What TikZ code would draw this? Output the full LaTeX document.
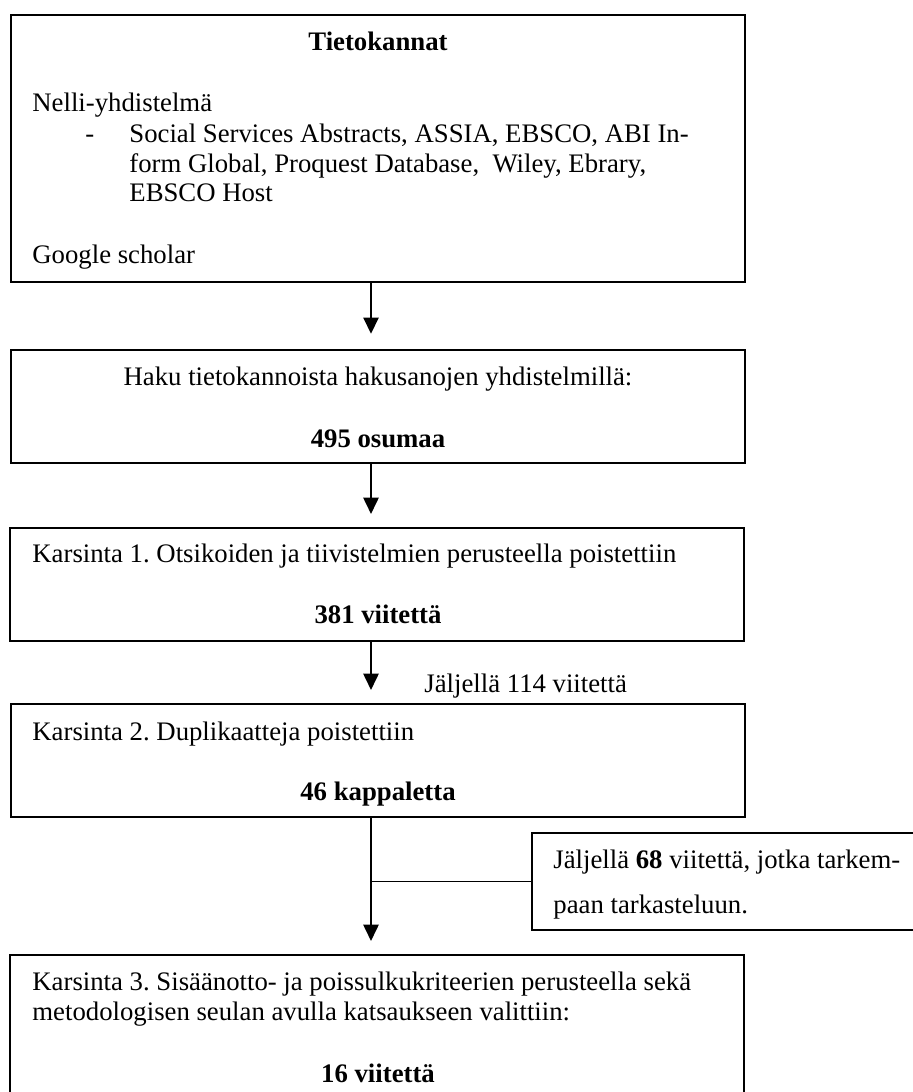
\documentclass[tikz,border=0pt,12pt]{standalone}
\usepackage{fontspec}
\setmainfont{Liberation Serif}
\usepackage{tikz}
\usetikzlibrary{arrows.meta, positioning, calc}
\frenchspacing

\newcommand{\px}{0.46pt}

\begin{document}
\begin{tikzpicture}[
    x=0.46pt, y=-0.46pt,
    box/.style={draw,line width=0.9pt,minimum width=734*\px,inner sep=0pt},
    txt/.style={inner sep=0pt,anchor=base west,font=\fontsize{12.3}{14}\selectfont},
    ctxt/.style={txt,anchor=base,font=\fontsize{12.3}{14}\selectfont\bfseries},
    arr/.style={-{Triangle[length=7.5pt,width=7pt]},line width=0.9pt,shorten >=6pt}
  ]
    \useasboundingbox (0,0) rectangle (912,1092);

    % boxes
    \node[box,minimum height=267*\px] (db)     at (378,148.5) {};
    \node[box,minimum height=113*\px] (search) at (378,406.5) {};
    \node[box,minimum height=113*\px] (scr1)   at (377,584.5) {};
    \node[box,minimum height=113*\px] (scr2)   at (378,760.5) {};
    \node[box,minimum width=400*\px,minimum height=97*\px] (left68) at (732,881.5) {};
    \node[box,minimum height=160*\px] (scr3)   at (377,1035) {};

    % texts
    \node[ctxt] (dbtitle) at (378,51) {Tietokannat};
    \node[txt] (nelli) at (32,111) {Nelli-yhdistelmä};
    \node[txt] (dash)  at (85,142) {-};
    \node[txt] (list1) at (129,142) {Social Services Abstracts, ASSIA, EBSCO, ABI In-};
    \node[txt] (list2) at (129,172) {form Global, Proquest Database,~ Wiley, Ebrary,};
    \node[txt] (list3) at (129,202) {EBSCO Host};
    \node[txt] (gs)    at (32,263) {Google scholar};

    \node[txt,anchor=base] (haku) at (378,385) {Haku tietokannoista hakusanojen yhdistelmillä:};
    \node[ctxt] (hits) at (378,447) {495 osumaa};

    \node[txt] (k1)   at (32,562) {Karsinta 1. Otsikoiden ja tiivistelmien perusteella poistettiin};
    \node[ctxt] (n381) at (378,623) {381 viitettä};

    \node[txt] (left114) at (424,692) {Jäljellä 114 viitettä};

    \node[txt] (k2)  at (32,740) {Karsinta 2. Duplikaatteja poistettiin};
    \node[ctxt] (n46) at (378,800) {46 kappaletta};

    \node[txt] (l68a) at (553,868) {Jäljellä \textbf{68} viitettä, jotka tarkem-};
    \node[txt] (l68b) at (553,913) {paan tarkasteluun.};

    \node[txt] (k3a) at (32,990) {Karsinta 3. Sisäänotto- ja poissulkukriteerien perusteella sekä};
    \node[txt] (k3b) at (32,1020) {metodologisen seulan avulla katsaukseen valittiin:};
    \node[ctxt] (n16) at (378,1082) {16 viitettä};

    % connectors
    \coordinate (axis) at (371,0);
    \draw[arr,shorten >=7pt] (db.south -| axis) -- (search.north -| axis);
    \draw[arr] (search.south -| axis) -- (scr1.north -| axis);
    \draw[arr] (scr1.south -| axis) -- (scr2.north -| axis);
    \draw[arr] (scr2.south -| axis) -- (scr3.north -| axis);
    \draw[line width=0.9pt] (left68.west) -- (left68.west -| axis);
\end{tikzpicture}
\end{document}
